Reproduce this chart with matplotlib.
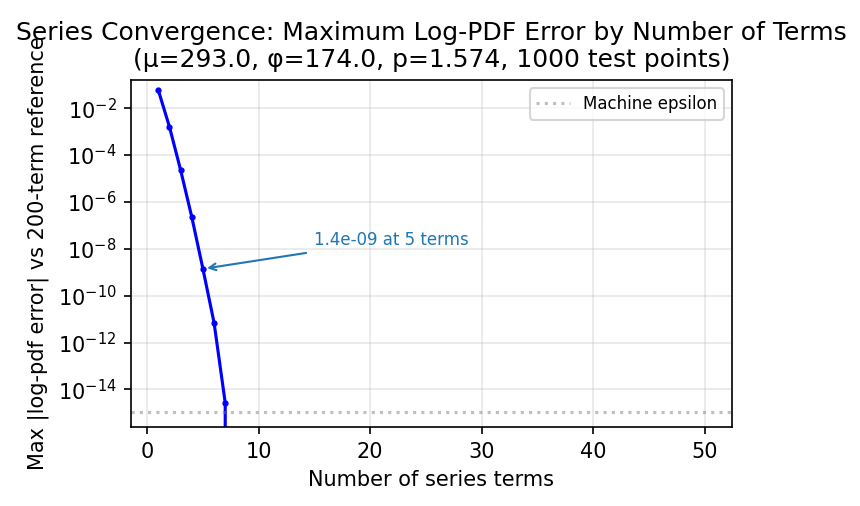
import numpy as np
import matplotlib.pyplot as plt

# ── Data ──────────────────────────────────────────────────────────────────────
n_terms = np.arange(1, 51)
max_err = np.zeros(50)
max_err[:7] = [5.9e-2, 1.6e-3, 2.3e-5, 2.3e-7, 1.4e-9, 7.0e-12, 2.7e-15]
machine_eps = 1.1e-15

fig, ax = plt.subplots(figsize=(860 / 150, 506 / 150), dpi=150)
fig.subplots_adjust(left=131 / 860, right=732 / 860, top=1 - 80 / 506, bottom=1 - 427 / 506)

ax.set_yscale("log", nonpositive="clip")
ax.plot(n_terms, max_err, "b-", lw=1.5, marker="o", ms=2)
ax.axhline(machine_eps, color="gray", ls=":", alpha=0.5, label="Machine epsilon")
ax.annotate("1.4e-09 at 5 terms", xy=(5, max_err[4]), xytext=(15, 1.5e-8),
            fontsize=8, color="tab:blue",
            arrowprops=dict(arrowstyle="->", color="tab:blue"))
ax.set_ylim(2.5e-16, 1.6e-1)
ax.set_xlim(-1.45, 52.45)
ax.set_xlabel("Number of series terms")
ax.set_ylabel("Max |log-pdf error| vs 200-term reference")
ax.set_title("Series Convergence: Maximum Log-PDF Error by Number of Terms\n"
             "(μ=293.0, φ=174.0, p=1.574, 1000 test points)")
ax.legend(fontsize=8)
ax.grid(alpha=0.3)

fig.savefig("out.png", dpi=150)
